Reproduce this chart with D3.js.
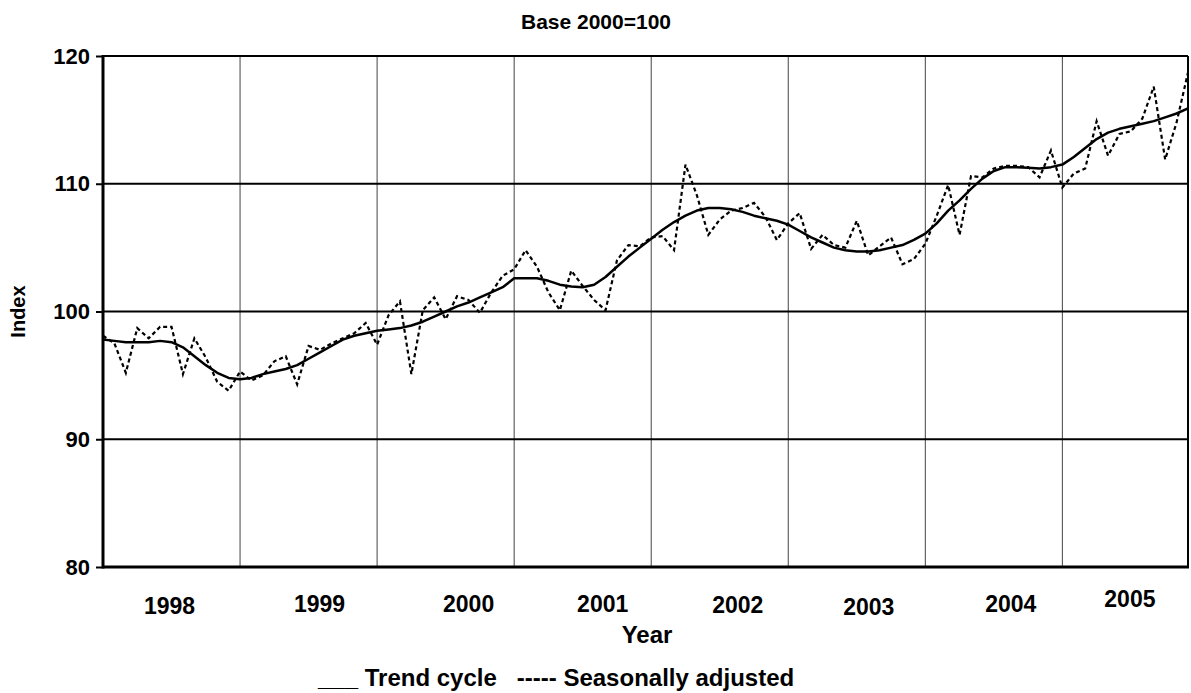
<!DOCTYPE html>
<html>
<head>
<meta charset="utf-8">
<script src="https://cdn.jsdelivr.net/npm/d3@7"></script>
<style>
body { margin: 0; background: #fff; }
text { font-family: Arial, "Liberation Sans", sans-serif; font-weight: bold; fill: #000; }
</style>
</head>
<body>
<div id="chart"></div>
<script>
var years = ['1998', '1999', '2000', '2001', '2002', '2003', '2004', '2005']
var monthNames = ['Jan', 'Feb', 'Mar', 'Apr', 'May', 'Jun', 'Jul', 'Aug', 'Sep', 'Oct', 'Nov', 'Dec']
var yTicks = [80, 90, 100, 110, 120]

// trend cycle, one value per month Jan 1998 - Dec 2005
var trend = [
  97.8, 97.7, 97.6, 97.6, 97.6, 97.7, 97.6, 97.2, 96.5, 95.8, 95.2, 94.8,
  94.7, 94.8, 95.1, 95.3, 95.5, 95.8, 96.3, 96.8, 97.3, 97.8, 98.1, 98.3,
  98.5, 98.6, 98.7, 98.9, 99.2, 99.6, 100.0, 100.4, 100.7, 101.1, 101.5, 101.9,
  102.6, 102.6, 102.6, 102.4, 102.1, 101.95, 101.9, 102.1, 102.7, 103.5, 104.3, 105.0,
  105.7, 106.4, 107.0, 107.5, 107.9, 108.1, 108.1, 108.0, 107.8, 107.5, 107.3, 107.1,
  106.8, 106.3, 105.8, 105.4, 105.0, 104.8, 104.7, 104.7, 104.8, 105.0, 105.2, 105.6,
  106.1, 106.9, 107.9, 108.7, 109.6, 110.4, 111.0, 111.3, 111.3, 111.25, 111.2, 111.3,
  111.5, 112.1, 112.8, 113.5, 114.0, 114.3, 114.5, 114.7, 114.9, 115.2, 115.5, 115.9
]

// seasonally adjusted
var adjusted = [
  98.1, 97.5, 95.2, 98.7, 97.9, 98.8, 98.8, 95.1, 97.9, 96.4, 94.5, 93.8,
  95.3, 94.6, 95.0, 96.1, 96.5, 94.3, 97.3, 97.0, 97.5, 97.9, 98.3, 99.1,
  97.4, 99.7, 100.8, 95.1, 100.1, 101.1, 99.4, 101.2, 100.9, 99.9, 101.5, 102.8,
  103.3, 104.8, 103.5, 101.5, 100.1, 103.2, 102.0, 100.9, 100.1, 104.0, 105.2, 105.1,
  105.8, 105.9, 104.8, 111.5, 109.1, 106.0, 107.2, 107.9, 108.1, 108.5, 107.4, 105.6,
  106.9, 107.7, 104.9, 106.0, 105.2, 105.0, 107.1, 104.4, 105.1, 105.8, 103.7, 104.1,
  105.3, 107.5, 109.9, 106.0, 110.6, 110.5, 111.2, 111.4, 111.4, 111.3, 110.5, 112.6,
  109.7, 110.8, 111.2, 114.9, 112.2, 113.9, 114.1, 115.1, 117.6, 111.9, 114.8, 118.7
]

var months = []
years.forEach(function(yr) { monthNames.forEach(function(m) { months.push(yr + '-' + m) }) })

var width = 1191
var height = 693
var plotLeft = 103, plotRight = 1188, plotTop = 56, plotBottom = 567

var svg = d3.select('#chart').append('svg').attr('width', width).attr('height', height)

var x = d3.scalePoint().domain(months).range([plotLeft, plotRight])
var y = d3.scaleLinear().domain([80, 120]).range([plotBottom, plotTop])
var step = x.step()

// vertical year gridlines
svg.append('g').selectAll('line')
  .data(years.slice(1)).join('line')
  .attr('x1', d => x(d + '-Jan')).attr('x2', d => x(d + '-Jan'))
  .attr('y1', plotTop).attr('y2', plotBottom)
  .attr('stroke', '#444').attr('stroke-width', 1)

// horizontal gridlines
svg.append('g').selectAll('line')
  .data(yTicks.slice(1)).join('line')
  .attr('x1', plotLeft).attr('x2', plotRight)
  .attr('y1', d => y(d)).attr('y2', d => y(d))
  .attr('stroke', '#000').attr('stroke-width', 2.2)

// right border
svg.append('line').attr('x1', plotRight).attr('x2', plotRight).attr('y1', plotTop).attr('y2', plotBottom)
  .attr('stroke', '#000').attr('stroke-width', 2)

var yAxis = svg.append('g').attr('transform', 'translate(' + plotLeft + ',0)')
  .call(d3.axisLeft(y).tickValues(yTicks).tickSize(7).tickPadding(6))
yAxis.select('.domain').remove()
yAxis.selectAll('line').attr('stroke', '#000').attr('stroke-width', 2)
yAxis.selectAll('text').style('font-size', '22px').style('font-family', 'Arial, "Liberation Sans", sans-serif')
  .style('font-weight', 'bold').attr('fill', '#000')

svg.append('line').attr('x1', plotLeft).attr('x2', plotLeft).attr('y1', plotTop - 1).attr('y2', plotBottom + 1.5)
  .attr('stroke', '#000').attr('stroke-width', 3)
svg.append('line').attr('x1', plotLeft).attr('x2', plotRight + 1).attr('y1', plotBottom).attr('y2', plotBottom)
  .attr('stroke', '#000').attr('stroke-width', 3)

var line = d3.line().x((d, i) => x(months[i])).y(d => y(d))

svg.append('path').datum(adjusted).attr('d', line)
  .attr('fill', 'none').attr('stroke', '#000').attr('stroke-width', 2.2)
  .attr('stroke-dasharray', '4,3')

svg.append('path').datum(trend).attr('d', line)
  .attr('fill', 'none').attr('stroke', '#000').attr('stroke-width', 2.5)
  .attr('stroke-linejoin', 'round')

// year labels sit like hand placed text boxes, nudged from each year's middle
var labelNudge = [[-2, 614], [11, 612], [23, 612], [20, 612], [18, 613], [12, 615], [17, 612], [-1, 607]]
svg.append('g').selectAll('text')
  .data(years).join('text')
  .attr('x', (d, i) => x(d + '-Jan') + 6 * step + labelNudge[i][0])
  .attr('y', (d, i) => labelNudge[i][1])
  .attr('text-anchor', 'middle').style('font-size', '23px')
  .text(d => d)

svg.append('text').attr('x', 596).attr('y', 29).attr('text-anchor', 'middle')
  .style('font-size', '21px').text('Base 2000=100')

svg.append('text').attr('x', 647).attr('y', 643).attr('text-anchor', 'middle')
  .style('font-size', '24px').text('Year')

svg.append('text').attr('transform', 'translate(25,' + (plotTop + plotBottom) / 2 + ') rotate(-90)')
  .attr('text-anchor', 'middle').style('font-size', '20px').text('Index')

svg.append('text').attr('x', 318).attr('y', 686).style('font-size', '24px')
  .attr('xml:space', 'preserve')
  .text('___ Trend cycle   ----- Seasonally adjusted')
</script>
</body>
</html>
